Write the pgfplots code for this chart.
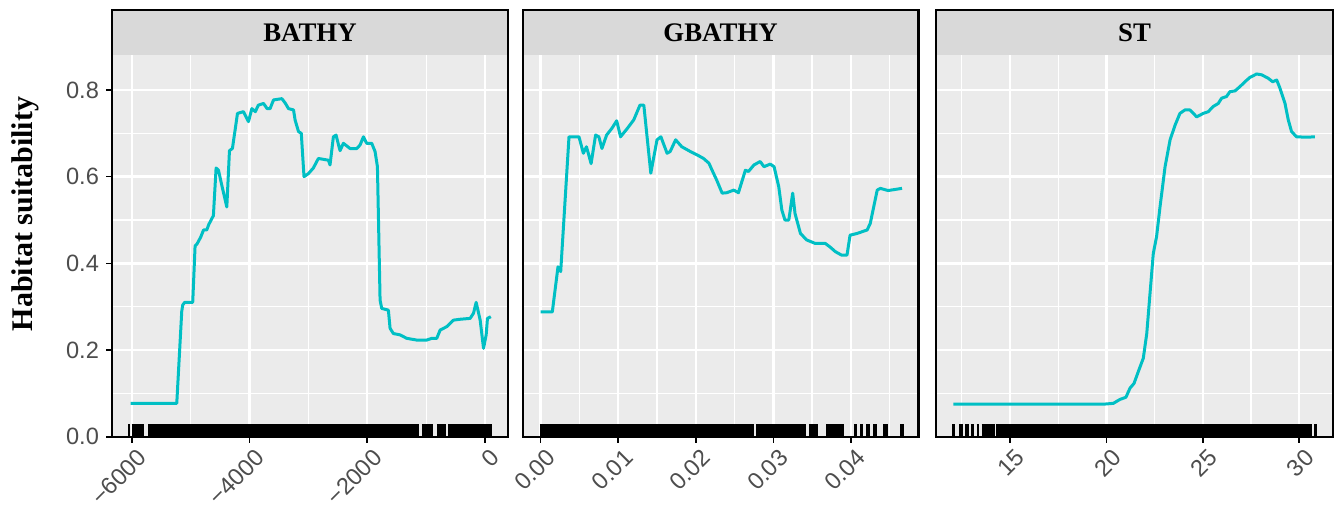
\documentclass[border=0pt]{standalone}
\usepackage{fontspec}
\setmainfont{Liberation Serif}
\newfontfamily\arial{Liberation Sans}
\usepackage{pgfplots}
\pgfplotsset{compat=1.18}
\definecolor{panelbg}{HTML}{EBEBEB}
\definecolor{stripbg}{HTML}{D9D9D9}
\definecolor{ticktext}{HTML}{4D4D4D}
\definecolor{curve}{HTML}{00BFC4}
\pgfplotsset{
  facet/.style={
    scale only axis, height=190.7pt, ymin=0, ymax=0.88, clip=false,
    axis background/.style={fill=panelbg},
    axis line style={draw=none},
    ytick={0,0.2,0.4,0.6,0.8}, minor ytick={0.1,0.3,0.5,0.7},
    ymajorgrids, yminorgrids, xmajorgrids, xminorgrids,
    major grid style={white, line width=1.2pt},
    minor grid style={white, line width=0.6pt},
    tick align=outside, major tick length=3pt, minor tick length=0pt,
    tick style={black, line width=0.8pt},
    xtick pos=bottom, ytick pos=left,
    scaled x ticks=false, scaled y ticks=false,
    ticklabel style={font=\arial\fontsize{11.8}{13}\selectfont, text=ticktext},
    xticklabel style={rotate=45, anchor=north east, inner sep=1pt, yshift=-2.2pt, xshift=1pt},
    unbounded coords=jump,
  },
  strip/.style={after end axis/.code={
    \fill[stripbg] (rel axis cs:0,1) rectangle (rel axis cs:1,1.1188);
    \draw[black, line width=1.2pt] (rel axis cs:0,0) rectangle (rel axis cs:1,1.1188);
    \node[font=\bfseries\fontsize{13.4}{15}\selectfont] at (rel axis cs:0.5,1.0594) {#1};
  }},
  curveline/.style={curve, line width=1.5pt, line join=round},
  rugline/.style={black, line width=6.5pt},
}
\begin{document}
\begin{tikzpicture}
\useasboundingbox (0,0) rectangle (668.5pt,252pt);
\node[rotate=90, font=\bfseries\fontsize{15}{17}\selectfont] at (12.5pt,145pt) {Habitat suitability};

% BATHY
\begin{axis}[facet, strip={BATHY}, at={(56pt,33.65pt)}, anchor=south west, width=198pt,
  xmin=-6335, xmax=391,
  xtick={-6000,-4000,-2000,0}, xticklabels={−6000,−4000,−2000,0},
  minor xtick={-5000,-3000,-1000},
  yticklabels={0.0,0.2,0.4,0.6,0.8}]
\addplot[rugline] coordinates {(-6060,0.0145) (-6030,0.0145) (-6030,nan) (-6000,0.0145) (-5786,0.0145) (-5786,nan)
 (-5718,0.0145) (-1113,0.0145) (-1113,nan) (-1073,0.0145) (-875,0.0145) (-875,nan)
 (-817,0.0145) (-659,0.0145) (-659,nan) (-620,0.0145) (120,0.0145)};
\addplot[curveline] coordinates {
(-6017,0.077) (-5235,0.077) (-5150,0.29) (-5133,0.304) (-5100,0.31) (-4964,0.31) (-4924,0.44) (-4890,0.445)
(-4830,0.46) (-4780,0.477) (-4726,0.477) (-4690,0.49) (-4613,0.51) (-4567,0.62) (-4527,0.615) (-4470,0.58)
(-4385,0.53) (-4340,0.66) (-4290,0.665) (-4244,0.708) (-4204,0.746) (-4102,0.75) (-4017,0.727) (-3960,0.757)
(-3900,0.75) (-3850,0.765) (-3762,0.769) (-3700,0.757) (-3650,0.757) (-3592,0.777) (-3450,0.78) (-3394,0.77)
(-3337,0.757) (-3252,0.754) (-3224,0.73) (-3167,0.704) (-3120,0.70) (-3074,0.60) (-3000,0.607) (-2915,0.62)
(-2830,0.642) (-2660,0.638) (-2632,0.627) (-2575,0.692) (-2530,0.696) (-2462,0.66) (-2405,0.677) (-2292,0.665)
(-2178,0.665) (-2122,0.673) (-2065,0.692) (-2009,0.677) (-1924,0.677) (-1867,0.658) (-1827,0.623) (-1810,0.508)
(-1782,0.315) (-1754,0.296) (-1641,0.292) (-1612,0.25) (-1556,0.238) (-1443,0.235) (-1330,0.227) (-1160,0.223)
(-989,0.223) (-904,0.227) (-819,0.227) (-762,0.246) (-649,0.254) (-535,0.269) (-422,0.271) (-252,0.273)
(-195,0.285) (-150,0.31) (-82,0.269) (-25,0.204) (20,0.235) (42,0.273) (99,0.277)};
\end{axis}

% GBATHY
\begin{axis}[facet, strip={GBATHY}, at={(261.35pt,33.65pt)}, anchor=south west, width=197.8pt,
  xmin=-0.00232, xmax=0.0487,
  xtick={0,0.01,0.02,0.03,0.04}, xticklabels={0.00,0.01,0.02,0.03,0.04},
  minor xtick={0.005,0.015,0.025,0.035,0.045},
  yticklabels={}, y tick style={draw=none}]
\addplot[rugline] coordinates {(-0.0001,0.0145) (0.02746,0.0145) (0.02746,nan) (0.0278,0.0145) (0.03423,0.0145) (0.03423,nan)
 (0.0346,0.0145) (0.0358,0.0145) (0.0358,nan) (0.0368,0.0145) (0.0391,0.0145) (0.0391,nan)
 (0.0404,0.0145) (0.0408,0.0145) (0.0408,nan) (0.0412,0.0145) (0.0416,0.0145) (0.0416,nan)
 (0.0420,0.0145) (0.0425,0.0145) (0.0425,nan) (0.0429,0.0145) (0.0434,0.0145) (0.0434,nan)
 (0.0442,0.0145) (0.0448,0.0145) (0.0448,nan) (0.0464,0.0145) (0.0468,0.0145)};
\addplot[curveline] coordinates {
(0,0.288) (0.0015,0.288) (0.00223,0.392) (0.00258,0.381) (0.00365,0.692) (0.00494,0.692) (0.0055,0.654)
(0.0059,0.669) (0.0062,0.65) (0.0065,0.63) (0.00708,0.696) (0.0075,0.692) (0.0079,0.665) (0.0085,0.696)
(0.0092,0.712) (0.0098,0.729) (0.0103,0.692) (0.0112,0.712) (0.012,0.731) (0.0128,0.765) (0.0133,0.765)
(0.0142,0.608) (0.015,0.685) (0.0155,0.692) (0.0163,0.654) (0.0167,0.658) (0.0174,0.685) (0.0182,0.669)
(0.0193,0.658) (0.0202,0.65) (0.021,0.642) (0.0217,0.631) (0.0221,0.615) (0.0227,0.592) (0.0234,0.562)
(0.024,0.563) (0.0249,0.569) (0.0255,0.563) (0.0264,0.615) (0.0268,0.612) (0.0275,0.627) (0.0283,0.635)
(0.0288,0.623) (0.0296,0.629) (0.0301,0.623) (0.0307,0.577) (0.0311,0.523) (0.0315,0.5) (0.032,0.5)
(0.0325,0.562) (0.0328,0.515) (0.0335,0.469) (0.0343,0.454) (0.0354,0.446) (0.0367,0.446) (0.0373,0.438)
(0.038,0.427) (0.0388,0.419) (0.0395,0.419) (0.0399,0.465) (0.0408,0.469) (0.0421,0.477) (0.0425,0.492)
(0.0434,0.569) (0.0438,0.573) (0.0448,0.568) (0.0466,0.573)};
\end{axis}

% ST
\begin{axis}[facet, strip={ST}, at={(468pt,33.65pt)}, anchor=south west, width=198.5pt,
  xmin=11.16, xmax=31.75,
  xtick={15,20,25,30}, xticklabels={15,20,25,30},
  minor xtick={12.5,17.5,22.5,27.5},
  yticklabels={}, y tick style={draw=none}]
\addplot[rugline] coordinates {(12.0,0.0145) (12.12,0.0145) (12.12,nan) (12.37,0.0145) (12.58,0.0145) (12.58,nan)
 (12.67,0.0145) (12.89,0.0145) (12.89,nan) (12.96,0.0145) (13.13,0.0145) (13.13,nan)
 (13.27,0.0145) (13.41,0.0145) (13.41,nan) (13.53,0.0145) (14.22,0.0145) (14.22,nan)
 (14.27,0.0145) (30.65,0.0145) (30.65,nan) (30.77,0.0145) (30.91,0.0145)};
\addplot[curveline] coordinates {
(12.06,0.075) (19.84,0.075) (20.36,0.077) (20.70,0.086) (21.01,0.091) (21.22,0.112) (21.43,0.123) (21.65,0.15)
(21.91,0.181) (22.09,0.238) (22.26,0.331) (22.43,0.423) (22.6,0.462) (22.78,0.531) (23.04,0.623) (23.3,0.685)
(23.56,0.719) (23.81,0.746) (24.07,0.754) (24.33,0.754) (24.68,0.738) (25.02,0.746) (25.28,0.75) (25.54,0.762)
(25.8,0.769) (25.97,0.781) (26.23,0.785) (26.4,0.796) (26.67,0.798) (26.93,0.808) (27.18,0.819) (27.44,0.829)
(27.79,0.837) (28.05,0.835) (28.39,0.827) (28.62,0.819) (28.83,0.823) (29.0,0.804) (29.26,0.769) (29.43,0.731)
(29.6,0.704) (29.86,0.692) (30.38,0.691) (30.81,0.692)};
\end{axis}
\end{tikzpicture}
\end{document}
